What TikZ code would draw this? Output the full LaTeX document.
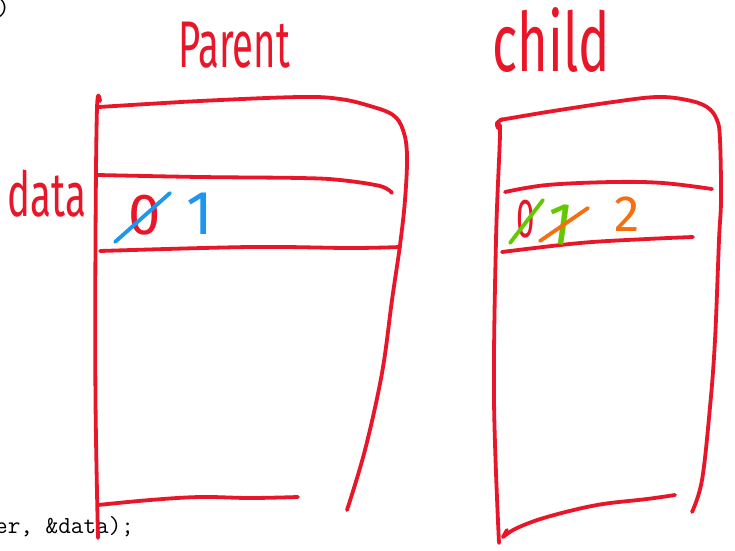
\documentclass[tikz,border=0pt]{standalone}
\usepackage{fontspec}
\setmainfont{Fira Sans}
\usepackage{graphicx}
\definecolor{pen}{RGB}{232,22,40}
\definecolor{bluepen}{RGB}{30,150,240}
\definecolor{greenpen}{RGB}{100,200,0}
\definecolor{orangepen}{RGB}{245,110,15}
\begin{document}
\begin{tikzpicture}[x=1pt,y=-1pt,
  stroke/.style={line width=3.8pt, line cap=round, line join=round},
  ink/.style={stroke, draw=pen},
  hand/.style={inner sep=0pt, text=pen},
  code/.style={inner sep=0pt, anchor=base west, font=\fontsize{24.5}{27}\selectfont\ttfamily}]
\useasboundingbox (0,0) rectangle (735,550);
\fill[white] (0,0) rectangle (735,550);

% code fragments
\node[code] (paren) at (-3,15) {)};
\node[code] (codeline) at (-5,533) {er, \&data);};

% labels
\node[hand, font=\fontsize{66}{70}\selectfont] (parentlabel) at (234,45) {\scalebox{0.58}[1]{Parent}};
\node[hand, font=\fontsize{82}{86}\selectfont] (childlabel) at (551,40) {\scalebox{0.64}[1]{child}};
\node[hand, font=\fontsize{62}{66}\selectfont] (datalabel) at (47,194) {\scalebox{0.62}[1]{data}};

% parent box
\draw[ink] plot[smooth, tension=0.6] coordinates {(100,101) (97,108) (95.5,240) (95.5,400) (98,538)};
\draw[ink] plot[smooth, tension=0.6] coordinates {(99,107) (200,101) (300,97) (340,99) (370,106) (393,115) (403,130) (407,155) (405,200) (400,245) (392,300) (382,373) (365,450) (347,510)};
\draw[ink] plot[smooth, tension=0.6] coordinates {(98,175) (200,177) (300,178) (340,180) (380,186) (392,193)};
\draw[ink] plot[smooth, tension=0.6] coordinates {(100,251) (250,247) (350,248) (400,247)};
\draw[ink] plot[smooth, tension=0.6] coordinates {(98,505) (150,500) (200,497) (250,498) (298,497)};

% parent data
\node[hand, font=\fontsize{58}{62}\selectfont] (pzero) at (145,215) {0};
\draw[stroke, draw=bluepen] (115,242) -- (170,193);
\node[inner sep=0pt, text=bluepen, font=\fontsize{62}{66}\selectfont] (pone) at (200,214) {1};

% child box
\draw[ink] plot[smooth, tension=0.6] coordinates {(503,119) (497,123) (498,128) (500,134) (496,240) (494,400) (499,543)};
\draw[ink] plot[smooth, tension=0.6] coordinates {(500,120) (547,112) (613,102) (657,97) (687,100) (707,107) (717,120) (720,140) (721,200) (719,240) (715,340) (710,407) (702,480) (692,512)};
\draw[ink] plot[smooth, tension=0.6] coordinates {(505,192) (547,185) (613,182) (663,183) (712,189)};
\draw[ink] plot[smooth, tension=0.6] coordinates {(502,252) (580,243) (647,239) (693,237)};
\draw[ink] plot[smooth, tension=0.6] coordinates {(675,495) (647,499) (597,505) (547,517) (517,528) (503,537)};
\draw[ink] (503,537) -- (507,530);

% child data
\node[hand, font=\fontsize{55}{60}\selectfont] (czero) at (526,219) {\scalebox{0.6}[1]{0}};
\draw[stroke, draw=greenpen] (510,243) -- (543,200);
\node[inner sep=0pt, text=greenpen, rotate=-8, font=\fontsize{60}{64}\selectfont] (cone) at (560,224) {1};
\draw[stroke, draw=orangepen] (540,241) -- (588,208);
\node[inner sep=0pt, text=orangepen, font=\fontsize{51}{55}\selectfont] (ctwo) at (627,214) {2};
\end{tikzpicture}
\end{document}
